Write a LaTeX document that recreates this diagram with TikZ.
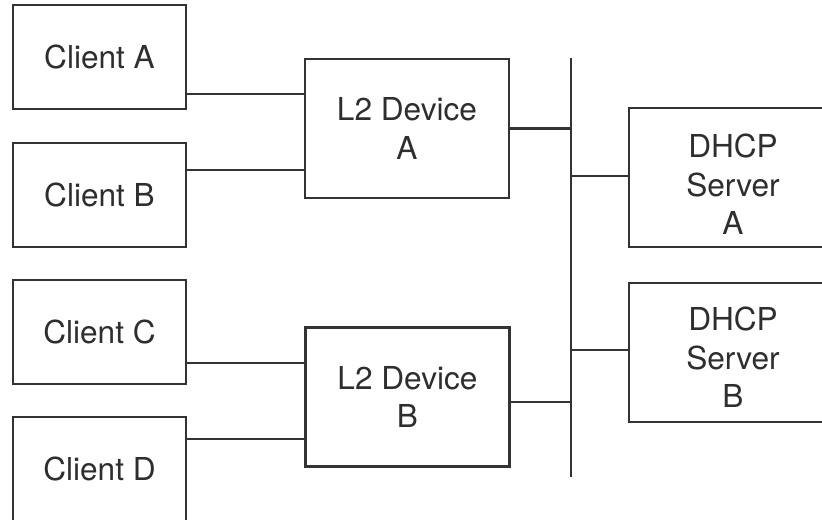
\documentclass[tikz,border=0pt]{standalone}
\usepackage{fontspec}
\setmainfont{TeX Gyre Heros}
\definecolor{ln}{HTML}{333333}
\definecolor{tx}{HTML}{2E2E2E}
\begin{document}
\begin{tikzpicture}[x=0.5pt,y=-0.5pt,
  box/.style={draw=ln,line width=1.2pt,fill=white,inner sep=0pt,
    font=\fontsize{15.8pt}{19.3pt}\selectfont,text=tx,align=center},
  client/.style={box,minimum width=86.5pt,minimum height=52pt},
  dev/.style={box,minimum width=102pt,minimum height=69.5pt},
  wire/.style={draw=ln,line width=1.2pt},
  lbl/.style={font=\fontsize{15.8pt}{19.3pt}\selectfont,text=tx,align=center,inner sep=0pt}]
\useasboundingbox (0,0) rectangle (822,519);
\clip (0,0) rectangle (822,519);
% clients
\node[client] (ca) at (99.5,57) {Client A};
\node[client] (cb) at (99.5,195) {Client B};
\node[client] (cc) at (99.5,332) {Client C};
\node[client] (cd) at (99.5,469) {Client D};
% L2 devices
\node[dev] (la) at (407,128.5) {L2 Device\\A};
\node[dev] (lb) at (407.5,397) {L2 Device\\B};
% DHCP servers
\node[dev,minimum width=104pt] (da) at (733,177.5) {};
\node[dev,minimum width=104pt] (db) at (733,352.5) {};
\node[lbl] (dat) at ([yshift=-3.5pt]da.center) {DHCP\\Server\\A};
\node[lbl] (dbt) at ([yshift=-2.5pt]db.center) {DHCP\\Server\\B};
% bus
\coordinate (bt) at (571,58);
\coordinate (bb) at (571,477);
\draw[wire] (bt) -- (bb);
% client links
\coordinate (pa) at ([yshift=-18.5pt]ca.east);
\coordinate (pb) at ([yshift=12.5pt]cb.east);
\coordinate (pc) at ([yshift=-15.5pt]cc.east);
\coordinate (pd) at ([yshift=15pt]cd.east);
\draw[wire] (pa) -- (pa -| la.west);
\draw[wire] (pb) -- (pb -| la.west);
\draw[wire] (pc) -- (pc -| lb.west);
\draw[wire] (pd) -- (pd -| lb.west);
% device to bus
\coordinate (qa) at (la.east);
\coordinate (qb) at ([yshift=-2.5pt]lb.east);
\draw[wire] (qa) -- (qa -| bt);
\draw[wire] (qb) -- (qb -| bt);
\coordinate (ra) at ([yshift=0.75pt]da.west);
\coordinate (rb) at ([yshift=1.25pt]db.west);
\draw[wire] (ra -| bt) -- (ra);
\draw[wire] (rb -| bt) -- (rb);
\end{tikzpicture}
\end{document}
